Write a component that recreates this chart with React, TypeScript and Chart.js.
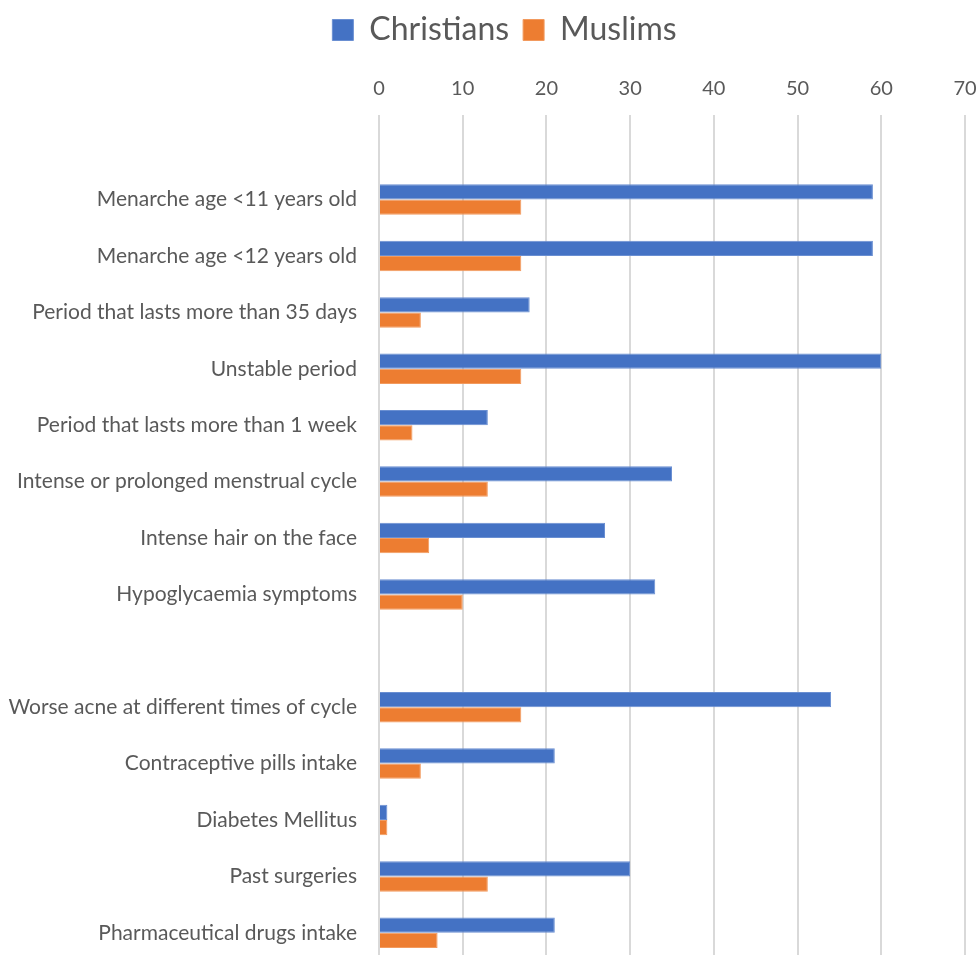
import React, { useEffect, useRef } from "react";
import { Chart, registerables } from "chart.js";

Chart.register(...registerables);

const categories = [
  "",
  "Menarche age <11 years old",
  "Menarche age <12 years old",
  "Period that lasts more than 35 days",
  "Unstable period",
  "Period that lasts more than 1 week",
  "Intense or prolonged menstrual cycle",
  "Intense hair on the face",
  "Hypoglycaemia symptoms",
  "",
  "Worse acne at different times of cycle",
  "Contraceptive pills intake",
  "Diabetes Mellitus",
  "Past surgeries",
  "Pharmaceutical drugs intake",
];

const christians = [null, 59, 59, 18, 60, 13, 35, 27, 33, null, 54, 21, 1, 30, 21];
const muslims = [null, 17, 17, 5, 17, 4, 13, 6, 10, null, 17, 5, 1, 13, 7];

const xMin = 0;
const xMax = 70;
const xStep = 10;

const FONT = "Lato, 'Open Sans', sans-serif";
const W = 977;
const H = 961;

const legendShift = {
  id: "legendShift",
  afterLayout(chart: any) {
    const lg = chart.legend;
    if (lg) {
      lg.left += 18;
      lg.right += 18;
    }
  },
};

export default function App() {
  const ref = useRef<HTMLCanvasElement | null>(null);

  useEffect(() => {
    if (!ref.current) return;
    const chart = new Chart(ref.current, {
      type: "bar",
      data: {
        labels: categories,
        datasets: [
          {
            label: "Christians",
            data: christians,
            backgroundColor: "#4472C4",
            borderColor: "#6A8FD2",
            borderWidth: 1,
            categoryPercentage: 0.54,
            barPercentage: 1,
          },
          {
            label: "Muslims",
            data: muslims,
            backgroundColor: "#ED7D31",
            borderColor: "#F29A5E",
            borderWidth: 1,
            categoryPercentage: 0.54,
            barPercentage: 1,
          },
        ],
      },
      plugins: [legendShift],
      options: {
        indexAxis: "y",
        animation: false,
        responsive: false,
        maintainAspectRatio: false,
        layout: { padding: { left: 8, right: 12, top: 0, bottom: 0 } },
        plugins: {
          legend: {
            position: "top",
            labels: {
              font: { family: FONT, size: 32 },
              color: "#595959",
              boxWidth: 21,
              boxHeight: 21,
              padding: 14,
            },
          },
          tooltip: { enabled: false },
        },
        scales: {
          x: {
            position: "top",
            min: xMin,
            max: xMax,
            ticks: {
              stepSize: xStep,
              color: "#595959",
              font: { family: FONT, size: 20 },
              padding: 14,
            },
            grid: { color: "#D9D9D9", lineWidth: 2, drawTicks: false },
            border: { display: false },
            afterFit: (scale: any) => {
              scale.height = 59;
              scale.paddingLeft = 0;
              scale.paddingRight = 0;
            },
          },
          y: {
            ticks: {
              color: "#595959",
              font: { family: FONT, size: 21 },
              padding: 22,
              autoSkip: false,
            },
            grid: { display: false, drawTicks: false },
            border: { display: false },
            afterFit: (scale: any) => {
              scale.width = 371;
              scale.paddingTop = 0;
              scale.paddingBottom = 0;
            },
          },
        },
      },
    });
    return () => chart.destroy();
  }, []);

  return (
    <div style={{ position: "fixed", left: 0, top: 0, width: W, height: H, background: "#fff", overflow: "hidden" }}>
      <canvas ref={ref} width={W} height={H} style={{ display: "block" }} />
    </div>
  );
}
